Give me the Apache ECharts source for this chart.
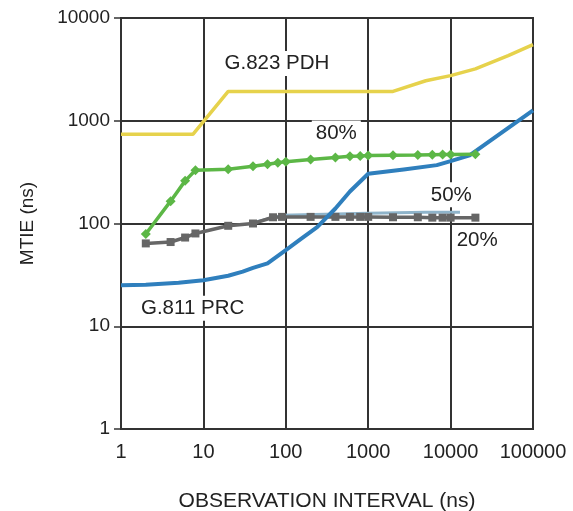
<!DOCTYPE html>
<html>
<head>
<meta charset="utf-8">
<script src="https://cdn.jsdelivr.net/npm/echarts@6/dist/echarts.min.js"></script>
<style>
  html, body { margin: 0; padding: 0; background: #fff; }
  #chart { width: 573px; height: 511px; }
</style>
</head>
<body>
<div id="chart"></div>
<script>
// G.823 PDH mask
const pdhX = [1, 7.5, 20, 2000, 5000, 10000, 20000, 50000, 100000]
const pdhY = [740, 740, 1930, 1930, 2450, 2750, 3200, 4300, 5500]

// G.811 PRC mask
const prcX = [1, 2, 5, 10, 20, 30, 40, 60, 100, 150, 240, 400, 600, 1000, 2700, 6800, 10000, 17000, 100000]
const prcY = [25, 25.3, 26.5, 28, 31, 34, 37, 41, 55, 70, 92, 140, 205, 305, 335, 370, 405, 460, 1260]

// 80% curve (diamonds)
const p80X = [2, 4, 6, 8, 20, 40, 60, 80, 100, 200, 400, 600, 800, 1000, 2000, 4000, 6000, 8000, 10000, 20000]
const p80Y = [79, 165, 260, 330, 338, 360, 378, 390, 400, 420, 440, 452, 455, 458, 462, 465, 468, 470, 470, 472]

// 20% curve (squares)
const p20X = [2, 4, 6, 8, 20, 40, 70, 90, 200, 400, 600, 800, 1000, 2000, 4000, 6000, 8000, 10000, 20000]
const p20Y = [64, 66, 73, 80, 95, 100, 115, 116, 116, 116, 116, 116, 116, 115, 115, 114, 114, 114, 114]

// 50% curve (mostly hidden behind 20%)
const p50X = [40, 90, 1000, 5000, 13000]
const p50Y = [102, 120, 126, 129, 129]

// annotations
const noteText = ['G.823 PDH', '80%', '50%', '20%', 'G.811 PRC']
const noteX = [78, 410, 10200, 21000, 7.4]
const noteY = [3600, 760, 190, 68, 15]

const FONT = 'Liberation Sans, Arial, sans-serif'
const ink = '#222'
const lineCol = '#333'

function pairs(xs, ys) { return xs.map((x, i) => [x, ys[i]]) }

const chart = echarts.init(document.getElementById('chart'), null, { renderer: 'canvas' })

chart.setOption({
  backgroundColor: '#fff',
  animation: false,
  textStyle: { fontFamily: FONT },
  grid: {
    left: 121, right: 40, top: 18, bottom: 82, outerBoundsMode: 'none', containLabel: false,
    show: true, borderColor: lineCol, borderWidth: 2, backgroundColor: 'transparent'
  },
  xAxis: {
    type: 'log', logBase: 10, min: 1, max: 100000,
    name: 'OBSERVATION INTERVAL (ns)', nameLocation: 'middle', nameGap: 62,
    nameTextStyle: { color: ink, fontSize: 21, fontFamily: FONT },
    axisLine: { show: true, lineStyle: { color: lineCol, width: 2 } },
    axisTick: { show: false },
    axisLabel: { color: ink, fontSize: 20, margin: 13, fontFamily: FONT, formatter: v => String(Math.round(v)) },
    splitLine: { show: true, lineStyle: { color: lineCol, width: 2 } },
    minorTick: { show: false }
  },
  yAxis: {
    type: 'log', logBase: 10, min: 1, max: 10000,
    name: 'MTIE (ns)', nameLocation: 'middle', nameGap: 84, nameRotate: 90,
    nameTextStyle: { color: ink, fontSize: 19, fontFamily: FONT },
    axisLine: { show: true, lineStyle: { color: lineCol, width: 2 } },
    axisTick: { show: true, inside: false, length: 7, lineStyle: { color: lineCol, width: 1.5 } },
    axisLabel: { color: ink, fontSize: 19, margin: 11, fontFamily: FONT, formatter: v => String(Math.round(v)) },
    splitLine: { show: true, lineStyle: { color: lineCol, width: 2 } }
  },
  series: [
    {
      name: 'G.823 PDH', type: 'line', data: pairs(pdhX, pdhY), symbol: 'none',
      lineStyle: { color: '#e6d24c', width: 3.5 }, z: 2
    },
    {
      name: '50%', type: 'line', data: pairs(p50X, p50Y), symbol: 'none',
      lineStyle: { color: '#8fb4ca', width: 3 }, z: 3
    },
    {
      name: '20%', type: 'line', data: pairs(p20X, p20Y), symbol: 'rect', symbolSize: 8,
      lineStyle: { color: '#666', width: 3.5 }, itemStyle: { color: '#666' }, z: 4
    },
    {
      name: 'G.811 PRC', type: 'line', data: pairs(prcX, prcY), symbol: 'none',
      lineStyle: { color: '#2f7fbd', width: 4, join: 'round' }, z: 5
    },
    {
      name: '80%', type: 'line', data: pairs(p80X, p80Y), symbol: 'diamond', symbolSize: 10,
      lineStyle: { color: '#5cb746', width: 3.5 }, itemStyle: { color: '#5cb746' }, z: 6
    }
  ]
})

// text notes placed at data coordinates, white box hides the grid behind them
chart.setOption({
  graphic: noteText.map((t, i) => {
    const p = chart.convertToPixel({ gridIndex: 0 }, [noteX[i], noteY[i]])
    return {
      type: 'text', x: p[0], y: p[1], z: 100,
      style: {
        text: t, fill: ink, font: '20.5px ' + FONT,
        align: 'center', verticalAlign: 'middle',
        backgroundColor: '#fff', padding: [2, 4]
      }
    }
  })
})
</script>
</body>
</html>
